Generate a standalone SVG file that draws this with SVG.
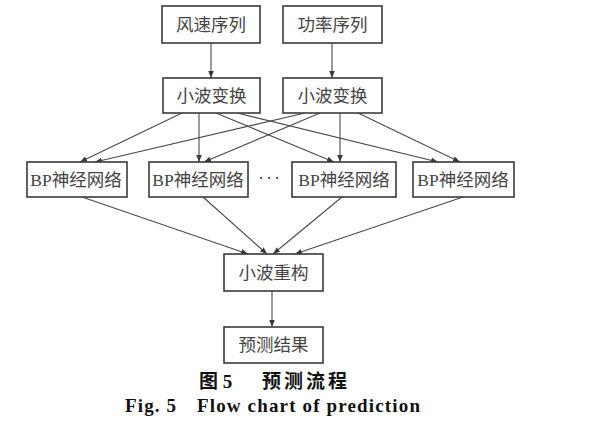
<svg xmlns="http://www.w3.org/2000/svg" width="597" height="441" viewBox="0 0 597 441">
<defs>
<style>
.box{fill:#fff;stroke:#3a3a3a;stroke-width:1.6}
.lbl{font-family:"Liberation Serif","Noto Sans CJK SC",serif;font-size:17.5px;fill:#444;text-anchor:middle;dominant-baseline:central}
.ln{stroke:#4a4a4a;stroke-width:1.1;fill:none;marker-end:url(#ah)}
.cap{font-family:"Liberation Serif","Noto Sans CJK SC",serif;font-weight:bold;font-size:19px;fill:#111}
</style>
<marker id="ah" viewBox="0 0 10 10" refX="10" refY="5" markerWidth="7" markerHeight="7" markerUnits="userSpaceOnUse" orient="auto">
<path d="M0,1 L10,5 L0,9 Z" fill="#3a3a3a"/>
</marker>
</defs>
<rect width="597" height="441" fill="#fff"/>
<g id="connectors">
<line class="ln" x1="211" y1="43" x2="211" y2="78"/>
<line class="ln" x1="332" y1="43" x2="332" y2="78"/>
<line class="ln" x1="182" y1="113" x2="80" y2="162"/>
<line class="ln" x1="199" y1="113" x2="199" y2="162"/>
<line class="ln" x1="216" y1="113" x2="334" y2="162"/>
<line class="ln" x1="237" y1="113" x2="438" y2="162"/>
<line class="ln" x1="305" y1="113" x2="95" y2="162"/>
<line class="ln" x1="320" y1="113" x2="204" y2="162"/>
<line class="ln" x1="340" y1="113" x2="340" y2="162"/>
<line class="ln" x1="358" y1="113" x2="460" y2="162"/>
<line class="ln" x1="82" y1="197" x2="248" y2="254"/>
<line class="ln" x1="203" y1="197" x2="267" y2="254"/>
<line class="ln" x1="342" y1="197" x2="273" y2="254"/>
<line class="ln" x1="463" y1="197" x2="295" y2="254"/>
<line class="ln" x1="272" y1="291" x2="272" y2="327"/>
</g>
<g id="n_fengsu"><rect class="box" x="162" y="6" width="98" height="37"/><text class="lbl" x="211" y="25">风速序列</text></g>
<g id="n_gonglv"><rect class="box" x="283" y="6" width="99" height="37"/><text class="lbl" x="332.5" y="25">功率序列</text></g>
<g id="n_wt1"><rect class="box" x="163" y="78" width="97" height="35"/><text class="lbl" x="211.5" y="96">小波变换</text></g>
<g id="n_wt2"><rect class="box" x="283" y="78" width="99" height="35"/><text class="lbl" x="332.5" y="96">小波变换</text></g>
<g id="n_bp1"><rect class="box" x="27" y="162" width="100" height="35"/><text class="lbl" x="76" y="180">BP神经网络</text></g>
<g id="n_bp2"><rect class="box" x="149" y="162" width="99" height="35"/><text class="lbl" x="198" y="180">BP神经网络</text></g>
<g id="dots"><text class="lbl" x="270" y="178" style="font-size:18px;letter-spacing:2px">···</text></g>
<g id="n_bp3"><rect class="box" x="292" y="162" width="104" height="35"/><text class="lbl" x="344" y="180">BP神经网络</text></g>
<g id="n_bp4"><rect class="box" x="413" y="162" width="101" height="35"/><text class="lbl" x="463" y="180">BP神经网络</text></g>
<g id="n_recon"><rect class="box" x="224" y="254" width="99" height="37"/><text class="lbl" x="273.5" y="272.5">小波重构</text></g>
<g id="n_result"><rect class="box" x="224" y="327" width="99" height="36"/><text class="lbl" x="273.5" y="345">预测结果</text></g>
<text class="cap" x="199" y="388">图 5</text>
<text class="cap" x="262" y="388" textLength="85" lengthAdjust="spacing">预测流程</text>
<text class="cap" x="125" y="412" textLength="51" lengthAdjust="spacing">Fig. 5</text>
<text class="cap" x="197" y="412" textLength="223" lengthAdjust="spacing">Flow chart of prediction</text>
</svg>
